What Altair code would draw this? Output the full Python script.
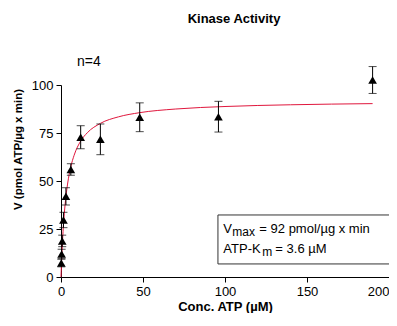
import altair as alt
import pandas as pd

conc = [0.1875, 0.375, 0.75, 1.5, 3, 6, 12, 24, 48, 96, 190]
velocity = [7.3, 12.0, 18.8, 29.7, 42.0, 56.0, 72.8, 71.7, 83.2, 83.5, 102.6]
err = [2.0, 2.5, 3.0, 4.0, 4.5, 3.0, 6.0, 8.0, 7.5, 8.0, 7.0]

# fitted curve
fit_x = [0, 0.25, 0.5, 1, 1.5, 2, 3, 4, 6, 8, 12, 16, 24, 35, 48, 70, 100, 140, 190]
fit_y = [0, 5.9, 11.2, 20.0, 27.1, 32.9, 41.8, 48.4, 57.5, 63.4, 70.8, 75.1, 80.0, 83.4, 85.6, 87.5, 88.8, 89.7, 90.3]

FONT = "Liberation Sans"

pts = pd.DataFrame({"conc": conc, "v": velocity, "err": err})
pts["lo"] = pts["v"] - pts["err"]
pts["hi"] = pts["v"] + pts["err"]
fit = pd.DataFrame({"conc": fit_x, "v": fit_y})

xs = alt.Scale(domain=[0, 200], nice=False, padding=0)
ys = alt.Scale(domain=[0, 100], nice=False, padding=0)

xaxis = alt.Axis(values=[0, 50, 100, 150, 200], title="Conc. ATP (µM)", grid=False, labelFlush=False,
                 labelAlign=alt.expr("datum.value == 200 ? 'right' : 'center'"),
                 labelFont=FONT, labelFontSize=13, titleFont=FONT, titleFontSize=13,
                 titleFontWeight="bold", tickSize=5, labelPadding=3, titlePadding=2,
                 domainColor="black", tickColor="black", labelColor="black", titleColor="black")
yaxis = alt.Axis(values=[0, 25, 50, 75, 100], title="V (pmol ATP/µg x min)", grid=False, labelFlush=False,
                 labelFont=FONT, labelFontSize=13, titleFont=FONT, titleFontSize=11.5,
                 titleFontWeight="bold", tickSize=5, labelPadding=3,
                 titleX=-43, titleY=64, titleAngle=270, titleAlign="center", titleBaseline="middle",
                 domainColor="black", tickColor="black", labelColor="black", titleColor="black")

base = alt.Chart(pts)

curve = alt.Chart(fit).mark_line(color="#e0173d", strokeWidth=1, interpolate="monotone").encode(
    x=alt.X("conc:Q", scale=xs, axis=xaxis),
    y=alt.Y("v:Q", scale=ys, axis=yaxis),
)
rules = base.mark_rule(color="black", strokeWidth=1).encode(
    x="conc:Q", y="lo:Q", y2="hi:Q")
cap_lo = base.mark_tick(color="black", orient="horizontal", size=8, thickness=1).encode(
    x="conc:Q", y="lo:Q")
cap_hi = base.mark_tick(color="black", orient="horizontal", size=8, thickness=1).encode(
    x="conc:Q", y="hi:Q")
tri = base.mark_point(shape="triangle-up", filled=True, color="black", size=75, opacity=1).encode(
    x="conc:Q", y="v:Q")

# annotations
title = alt.Chart(pd.DataFrame({"x": [105.5], "y": [134.4], "t": ["Kinase Activity"]})).mark_text(
    font=FONT, fontSize=13, fontWeight="bold", align="center", baseline="middle", color="black").encode(
    x="x:Q", y="y:Q", text="t:N")
ann_n = alt.Chart(pd.DataFrame({"x": [9.8], "y": [112], "t": ["n=4"]})).mark_text(
    font=FONT, fontSize=14, align="left", baseline="middle", color="black").encode(
    x="x:Q", y="y:Q", text="t:N")

box = alt.Chart(pd.DataFrame({"x": [95.7], "x2": [215], "y": [6.8], "y2": [32.3]})).mark_rect(
    fill="white", stroke="#333", strokeWidth=1).encode(
    x="x:Q", x2="x2:Q", y="y:Q", y2="y2:Q")

line1 = pd.DataFrame({"x": [99], "y": [22.9]})
line2 = pd.DataFrame({"x": [99], "y": [12.5]})

def txt(df, s, size, dx=0, dy=0):
    return alt.Chart(df).mark_text(font=FONT, fontSize=size, align="left", baseline="alphabetic",
                                   color="black", dx=dx, dy=dy, text=s).encode(x="x:Q", y="y:Q")

t1a = txt(line1, "V", 13)
t1b = txt(line1, "max", 12, dx=9, dy=3)
t1c = txt(line1, "= 92 pmol/µg x min", 13, dx=36)
t2a = txt(line2, "ATP-K", 13)
t2b = txt(line2, "m", 12, dx=39, dy=3)
t2c = txt(line2, "= 3.6 µM", 13, dx=52)

chart = alt.layer(curve, rules, cap_lo, cap_hi, tri, title, ann_n, box, t1a, t1b, t1c, t2a, t2b, t2c).properties(
    width=328, height=192,
    autosize=alt.AutoSizeParams(type="none"),
    padding={"left": 53, "top": 77, "right": 0, "bottom": 36},
).configure_view(stroke=None)

chart.save("out.html", embed_options={"renderer": "svg", "actions": False})
